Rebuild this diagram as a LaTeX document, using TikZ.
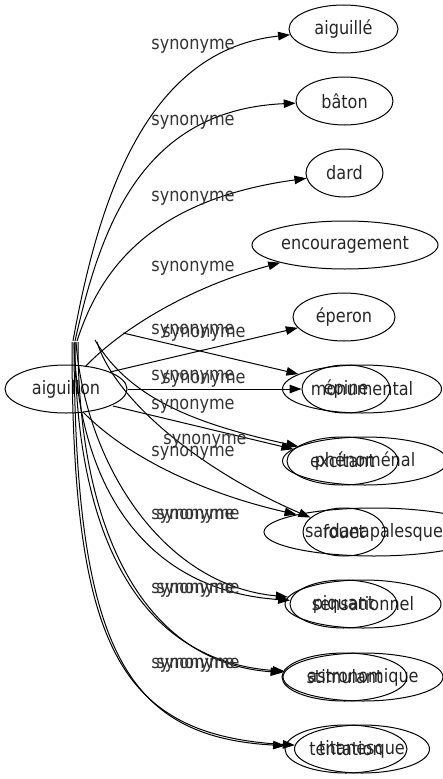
\documentclass[tikz,border=0pt]{standalone}
\usepackage{fontspec}
\newfontfamily\gvfont{DejaVu Sans}[FakeStretch=0.87]
\usetikzlibrary{shapes.geometric,arrows.meta}
\begin{document}
\begin{tikzpicture}[x=1pt,y=-1pt,
  gvnode/.style={draw=black, line width=1pt, ellipse, inner sep=0pt, minimum height=48pt,
    font=\gvfont\fontsize{18.5pt}{20pt}\selectfont, text=black!85},
  lbl/.style={inner sep=0pt, font=\gvfont\fontsize{18.5pt}{20pt}\selectfont, text=black!80},
  syn/.style={draw=black, line width=1pt, -{Triangle[length=12pt,width=8.5pt]}}]
\useasboundingbox (0,0) rectangle (443,779);
\clip (0,0) rectangle (443,779);

% nodes
\node[gvnode, minimum width=122pt] (aiguillon) at (66,389) {aiguillon};
\node[gvnode, minimum width=109pt] (aiguille) at (343.5,29) {aiguillé};
\node[gvnode, minimum width=97pt] (baton) at (344.5,101) {bâton};
\node[gvnode, minimum width=77pt] (dard) at (344.5,173) {dard};
\node[gvnode, minimum width=186pt] (encouragement) at (345,245) {encouragement};
\node[gvnode, minimum width=102pt] (eperon) at (344,317) {éperon};
\node[gvnode, minimum width=159pt] (monumental) at (362,389) {monumental};
\node[gvnode, minimum width=88pt] (epine) at (346,389) {épine};
\node[gvnode, minimum width=165pt] (phenomenal) at (365,461) {phénoménal};
\node[gvnode, minimum width=111pt] (excitant) at (342.5,461) {excitant};
\node[gvnode, minimum width=220pt] (sardanapalesque) at (374,532) {sardanapalesque};
\node[gvnode, minimum width=82pt] (fouet) at (344,532) {fouet};
\node[gvnode, minimum width=156pt] (sensationnel) at (363,604) {sensationnel};
\node[gvnode, minimum width=107pt] (piquant) at (343.5,604) {piquant};
\node[gvnode, minimum width=160pt] (astronomique) at (363,677) {astronomique};
\node[gvnode, minimum width=125pt] (stimulant) at (344.5,677) {stimulant};
\node[gvnode, minimum width=135pt] (titanesque) at (362,749) {titanesque};
\node[gvnode, minimum width=122pt] (tentation) at (346,749) {tentation};

% edge start points
\coordinate (hubA) at (73,341);
\coordinate (hubB) at (75,341);
\coordinate (hubC) at (77,341);
\coordinate (hubD) at (76,342);
\coordinate (hubE) at (74,342);
\coordinate (hubF) at (75,342);
\coordinate (hubG) at (78,342);
\coordinate (hubH) at (72,342);
\coordinate (hubI) at (74,343);
\coordinate (encS) at (85,367);
\coordinate (epS) at (110,372);
\coordinate (monS) at (123,333);
\coordinate (exS) at (113,406);
\coordinate (phS) at (95,340);
\coordinate (saS) at (97,342);
\coordinate (sbS) at (83,412);

% edges
\draw[syn] (hubA) .. controls (100,190) and (150,50) .. (aiguille);
\draw[syn] (hubB) .. controls (100,230) and (140,110) .. (baton);
\draw[syn] (hubC) .. controls (100,270) and (150,200) .. (dard);
\draw[syn] (encS) .. controls (115,335) and (180,290) .. (encouragement);
\draw[syn] (epS) -- (eperon);
\draw[syn] (monS) -- (monumental);
\draw[syn] (aiguillon) -- (epine);
\draw[syn] (exS) -- (excitant);
\draw[syn] (phS) .. controls (130,400) and (200,425) .. (phenomenal);
\draw[syn] (saS) .. controls (115,400) and (200,470) .. (fouet);
\draw[syn] (sbS) .. controls (130,460) and (210,495) .. (sardanapalesque);
\draw[syn] (hubD) .. controls (85,460) and (160,585) .. (sensationnel);
\draw[syn] (hubE) .. controls (78,480) and (140,590) .. (piquant);
\draw[syn] (hubF) .. controls (75,520) and (130,660) .. (astronomique);
\draw[syn] (hubG) .. controls (78,515) and (135,662) .. (stimulant);
\draw[syn] (hubH) .. controls (72,650) and (120,735) .. (titanesque);
\draw[syn] (hubI) .. controls (75,648) and (125,737) .. (tentation);

% labels
\node[lbl] (l1) at (193,46) {synonyme};
\node[lbl] (l2) at (193,122) {synonyme};
\node[lbl] (l3) at (193,198) {synonyme};
\node[lbl] (l4) at (193,268) {synonyme};
\node[lbl] (l5a) at (193,331) {synonyme};
\node[lbl] (l5b) at (204,334) {synonyme};
\node[lbl] (l6a) at (193,377) {synonyme};
\node[lbl] (l6b) at (204,380) {synonyme};
\node[lbl] (l7) at (193,406) {synonyme};
\node[lbl] (l8a) at (205,441) {synonyme};
\node[lbl] (l8b) at (193,453) {synonyme};
\node[lbl] (l9a) at (193,516) {synonyme};
\node[lbl] (l9b) at (198,516) {synonyme};
\node[lbl] (l10a) at (193,590) {synonyme};
\node[lbl] (l10b) at (198,590) {synonyme};
\node[lbl] (l11a) at (193,665) {synonyme};
\node[lbl] (l11b) at (198,665) {synonyme};
\end{tikzpicture}
\end{document}
